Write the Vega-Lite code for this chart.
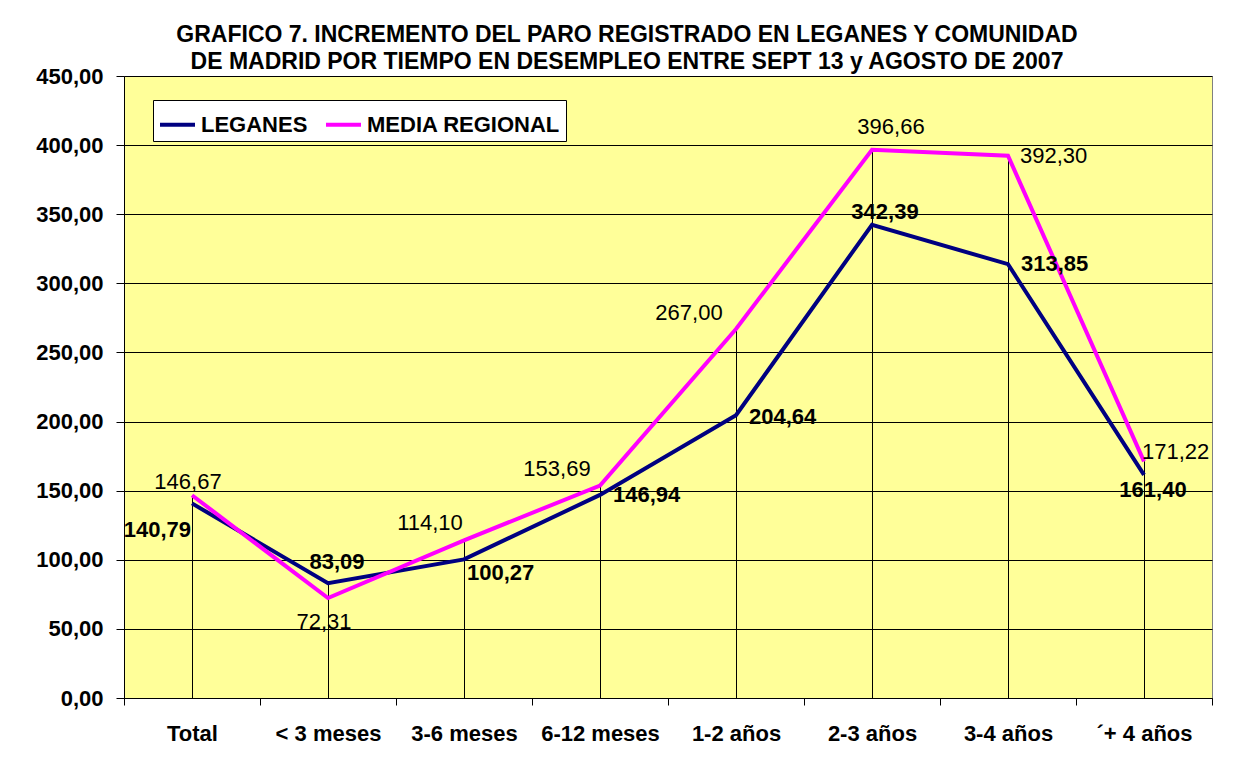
{
  "$schema": "https://vega.github.io/schema/vega-lite/v6.json",
  "width": 1088,
  "height": 622,
  "autosize": {"type": "none"},
  "padding": {"left": 124, "top": 76, "right": 32, "bottom": 78},
  "background": "white",
  "title": {
    "text": ["GRAFICO 7. INCREMENTO DEL PARO REGISTRADO EN LEGANES Y COMUNIDAD", "DE MADRID POR TIEMPO EN DESEMPLEO ENTRE SEPT 13 y AGOSTO DE 2007"],
    "fontSize": 23,
    "fontWeight": "bold",
    "font": "Liberation Sans",
    "color": "black",
    "anchor": "middle",
    "dx": -41,
    "dy": 13,
    "lineHeight": 27,
    "offset": 4
  },
  "data": {
    "values": [
      {"cat": "Total", "serie": "LEGANES", "value": 140.79},
      {"cat": "< 3 meses", "serie": "LEGANES", "value": 83.09},
      {"cat": "3-6 meses", "serie": "LEGANES", "value": 100.27},
      {"cat": "6-12 meses", "serie": "LEGANES", "value": 146.94},
      {"cat": "1-2 años", "serie": "LEGANES", "value": 204.64},
      {"cat": "2-3 años", "serie": "LEGANES", "value": 342.39},
      {"cat": "3-4 años", "serie": "LEGANES", "value": 313.85},
      {"cat": "´+ 4 años", "serie": "LEGANES", "value": 161.40},
      {"cat": "Total", "serie": "MEDIA REGIONAL", "value": 146.67},
      {"cat": "< 3 meses", "serie": "MEDIA REGIONAL", "value": 72.31},
      {"cat": "3-6 meses", "serie": "MEDIA REGIONAL", "value": 114.10},
      {"cat": "6-12 meses", "serie": "MEDIA REGIONAL", "value": 153.69},
      {"cat": "1-2 años", "serie": "MEDIA REGIONAL", "value": 267.00},
      {"cat": "2-3 años", "serie": "MEDIA REGIONAL", "value": 396.66},
      {"cat": "3-4 años", "serie": "MEDIA REGIONAL", "value": 392.30},
      {"cat": "´+ 4 años", "serie": "MEDIA REGIONAL", "value": 171.22}
    ]
  },
  "encoding": {
    "x": {
      "field": "cat",
      "type": "nominal",
      "sort": ["Total", "< 3 meses", "3-6 meses", "6-12 meses", "1-2 años", "2-3 años", "3-4 años", "´+ 4 años"],
      "scale": {"type": "band", "paddingInner": 0, "paddingOuter": 0},
      "axis": {
        "title": null,
        "labelAngle": 0,
        "labelFont": "Liberation Sans",
        "labelFontSize": 22,
        "labelFontWeight": "bold",
        "labelColor": "black",
        "labelPadding": 18,
        "tickBand": "extent",
        "tickSize": 7,
        "tickColor": "black",
        "domainColor": "black",
        "grid": false
      }
    },
    "y": {
      "field": "value",
      "type": "quantitative",
      "scale": {"domain": [0, 450], "nice": false},
      "axis": {
        "title": null,
        "values": [0, 50, 100, 150, 200, 250, 300, 350, 400, 450],
        "format": ".2f",
        "labelFont": "Liberation Sans",
        "labelFontSize": 22,
        "labelFontWeight": "bold",
        "labelColor": "black",
        "labelPadding": 13,
        "tickSize": 8,
        "tickColor": "black",
        "domainColor": "black",
        "grid": true,
        "gridColor": "black",
        "gridWidth": 1,
        "gridOpacity": 1
      }
    }
  },
  "layer": [
    {
      "mark": {"type": "rule", "color": "black", "strokeWidth": 1, "xOffset": 0.5},
      "encoding": {
        "y": {"aggregate": "max", "field": "value", "type": "quantitative", "title": null},
        "y2": {"datum": 0}
      }
    },
    {
      "mark": {"type": "line", "strokeWidth": 4},
      "encoding": {
        "color": {
          "field": "serie",
          "type": "nominal",
          "scale": {"domain": ["LEGANES", "MEDIA REGIONAL"], "range": ["#000080", "#FF00FF"]},
          "legend": {
            "orient": "none",
            "legendX": 29,
            "legendY": 24,
            "direction": "horizontal",
            "title": null,
            "symbolType": "stroke",
            "symbolStrokeWidth": 4,
            "symbolSize": 1225,
            "labelFontSize": 22,
            "labelFont": "Liberation Sans",
            "labelFontWeight": "bold",
            "labelColor": "black",
            "labelLimit": 400,
            "fillColor": "white",
            "strokeColor": "black",
            "padding": 5,
            "columnPadding": 10,
            "labelOffset": 4
          }
        }
      }
    },
    {
      "transform": [{"filter": {"field": "serie", "equal": "LEGANES"}}, {"filter": {"field": "cat", "oneOf": ["Total"]}}],
      "mark": {"type": "text", "font": "Liberation Sans", "fontSize": 22, "fontWeight": "bold", "color": "black", "align": "right", "baseline": "middle", "dx": -1, "dy": 27},
      "encoding": {"text": {"field": "value", "type": "quantitative", "format": ".2f"}}
    },
    {
      "transform": [{"filter": {"field": "serie", "equal": "LEGANES"}}, {"filter": {"field": "cat", "oneOf": ["< 3 meses"]}}],
      "mark": {"type": "text", "font": "Liberation Sans", "fontSize": 22, "fontWeight": "bold", "color": "black", "align": "center", "baseline": "middle", "dx": 9, "dy": -21},
      "encoding": {"text": {"field": "value", "type": "quantitative", "format": ".2f"}}
    },
    {
      "transform": [{"filter": {"field": "serie", "equal": "LEGANES"}}, {"filter": {"field": "cat", "oneOf": ["3-6 meses"]}}],
      "mark": {"type": "text", "font": "Liberation Sans", "fontSize": 22, "fontWeight": "bold", "color": "black", "align": "left", "baseline": "middle", "dx": 3, "dy": 14},
      "encoding": {"text": {"field": "value", "type": "quantitative", "format": ".2f"}}
    },
    {
      "transform": [{"filter": {"field": "serie", "equal": "LEGANES"}}, {"filter": {"field": "cat", "oneOf": ["6-12 meses", "3-4 años"]}}],
      "mark": {"type": "text", "font": "Liberation Sans", "fontSize": 22, "fontWeight": "bold", "color": "black", "align": "left", "baseline": "middle", "dx": 13, "dy": 0},
      "encoding": {"text": {"field": "value", "type": "quantitative", "format": ".2f"}}
    },
    {
      "transform": [{"filter": {"field": "serie", "equal": "LEGANES"}}, {"filter": {"field": "cat", "oneOf": ["1-2 años"]}}],
      "mark": {"type": "text", "font": "Liberation Sans", "fontSize": 22, "fontWeight": "bold", "color": "black", "align": "left", "baseline": "middle", "dx": 13, "dy": 2},
      "encoding": {"text": {"field": "value", "type": "quantitative", "format": ".2f"}}
    },
    {
      "transform": [{"filter": {"field": "serie", "equal": "LEGANES"}}, {"filter": {"field": "cat", "oneOf": ["2-3 años"]}}],
      "mark": {"type": "text", "font": "Liberation Sans", "fontSize": 22, "fontWeight": "bold", "color": "black", "align": "center", "baseline": "middle", "dx": 13, "dy": -13},
      "encoding": {"text": {"field": "value", "type": "quantitative", "format": ".2f"}}
    },
    {
      "transform": [{"filter": {"field": "serie", "equal": "LEGANES"}}, {"filter": {"field": "cat", "oneOf": ["´+ 4 años"]}}],
      "mark": {"type": "text", "font": "Liberation Sans", "fontSize": 22, "fontWeight": "bold", "color": "black", "align": "center", "baseline": "middle", "dx": 9, "dy": 15},
      "encoding": {"text": {"field": "value", "type": "quantitative", "format": ".2f"}}
    },
    {
      "transform": [{"filter": {"field": "serie", "equal": "MEDIA REGIONAL"}}, {"filter": {"field": "cat", "oneOf": ["Total"]}}],
      "mark": {"type": "text", "font": "Liberation Sans", "fontSize": 22, "color": "black", "align": "center", "baseline": "middle", "dx": -4, "dy": -13},
      "encoding": {"text": {"field": "value", "type": "quantitative", "format": ".2f"}}
    },
    {
      "transform": [{"filter": {"field": "serie", "equal": "MEDIA REGIONAL"}}, {"filter": {"field": "cat", "oneOf": ["< 3 meses"]}}],
      "mark": {"type": "text", "font": "Liberation Sans", "fontSize": 22, "color": "black", "align": "center", "baseline": "middle", "dx": -4, "dy": 24},
      "encoding": {"text": {"field": "value", "type": "quantitative", "format": ".2f"}}
    },
    {
      "transform": [{"filter": {"field": "serie", "equal": "MEDIA REGIONAL"}}, {"filter": {"field": "cat", "oneOf": ["3-6 meses"]}}],
      "mark": {"type": "text", "font": "Liberation Sans", "fontSize": 22, "color": "black", "align": "center", "baseline": "middle", "dx": -34, "dy": -17},
      "encoding": {"text": {"field": "value", "type": "quantitative", "format": ".2f"}}
    },
    {
      "transform": [{"filter": {"field": "serie", "equal": "MEDIA REGIONAL"}}, {"filter": {"field": "cat", "oneOf": ["6-12 meses"]}}],
      "mark": {"type": "text", "font": "Liberation Sans", "fontSize": 22, "color": "black", "align": "center", "baseline": "middle", "dx": -43, "dy": -17},
      "encoding": {"text": {"field": "value", "type": "quantitative", "format": ".2f"}}
    },
    {
      "transform": [{"filter": {"field": "serie", "equal": "MEDIA REGIONAL"}}, {"filter": {"field": "cat", "oneOf": ["1-2 años"]}}],
      "mark": {"type": "text", "font": "Liberation Sans", "fontSize": 22, "color": "black", "align": "center", "baseline": "middle", "dx": -47, "dy": -16},
      "encoding": {"text": {"field": "value", "type": "quantitative", "format": ".2f"}}
    },
    {
      "transform": [{"filter": {"field": "serie", "equal": "MEDIA REGIONAL"}}, {"filter": {"field": "cat", "oneOf": ["2-3 años"]}}],
      "mark": {"type": "text", "font": "Liberation Sans", "fontSize": 22, "color": "black", "align": "center", "baseline": "middle", "dx": 19, "dy": -23},
      "encoding": {"text": {"field": "value", "type": "quantitative", "format": ".2f"}}
    },
    {
      "transform": [{"filter": {"field": "serie", "equal": "MEDIA REGIONAL"}}, {"filter": {"field": "cat", "oneOf": ["3-4 años"]}}],
      "mark": {"type": "text", "font": "Liberation Sans", "fontSize": 22, "color": "black", "align": "left", "baseline": "middle", "dx": 12, "dy": 0},
      "encoding": {"text": {"field": "value", "type": "quantitative", "format": ".2f"}}
    },
    {
      "transform": [{"filter": {"field": "serie", "equal": "MEDIA REGIONAL"}}, {"filter": {"field": "cat", "oneOf": ["´+ 4 años"]}}],
      "mark": {"type": "text", "font": "Liberation Sans", "fontSize": 22, "color": "black", "align": "left", "baseline": "middle", "dx": -2, "dy": -9},
      "encoding": {"text": {"field": "value", "type": "quantitative", "format": ".2f"}}
    }
  ],
  "config": {
    "locale": {"number": {"decimal": ",", "thousands": ".", "grouping": [3], "currency": ["", " €"]}},
    "font": "Liberation Sans",
    "view": {"fill": "#FFFF99", "stroke": "#808080"}
  }
}
